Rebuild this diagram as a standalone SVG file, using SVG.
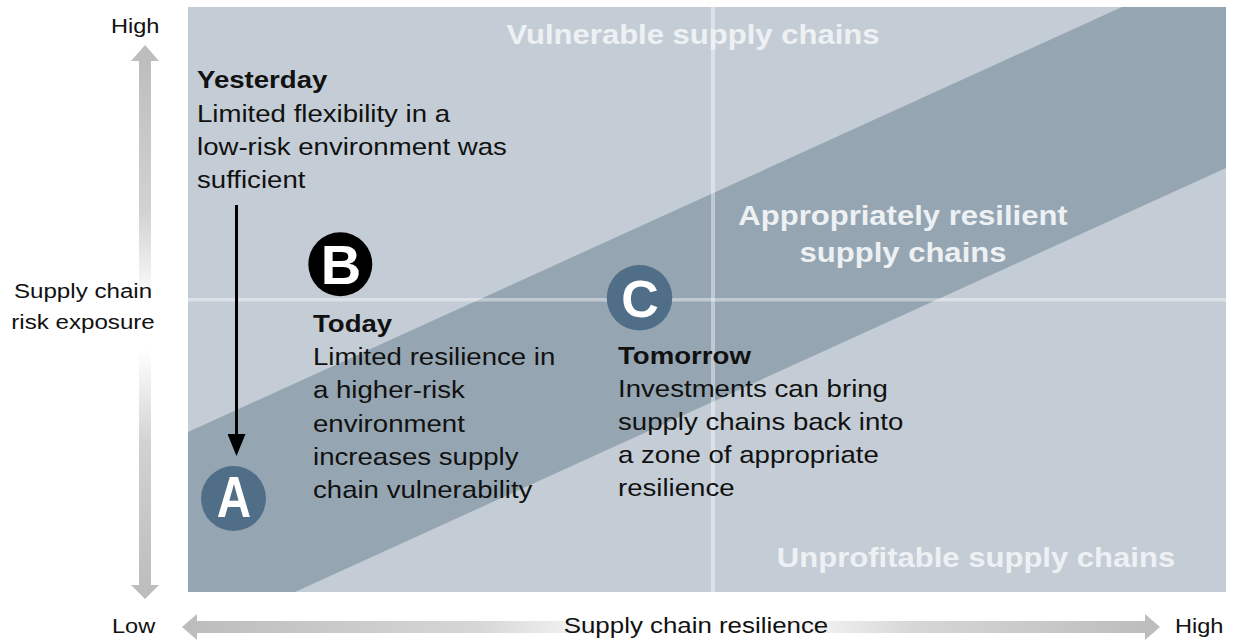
<svg xmlns="http://www.w3.org/2000/svg" width="1233" height="641" viewBox="0 0 1233 641">
<style>
.body{font-family:"Liberation Sans",Arial,sans-serif;font-size:24px;fill:#111}
.head{font-family:"Liberation Sans",Arial,sans-serif;font-size:24px;font-weight:bold;fill:#111}
.axis{font-family:"Liberation Sans",Arial,sans-serif;font-size:20.5px;fill:#111}
.zone{font-family:"Liberation Sans",Arial,sans-serif;font-size:27px;font-weight:bold;fill:#eef1f4;text-anchor:middle}
.letter{font-family:"Liberation Sans",Arial,sans-serif;font-weight:bold;fill:#fff;text-anchor:middle}
.div{fill:#fff;fill-opacity:0.4}
</style>
<defs>
<linearGradient id="gv" gradientUnits="userSpaceOnUse" x1="0" y1="45" x2="0" y2="599">
<stop offset="0" stop-color="#bcbcbc"/>
<stop offset="0.3" stop-color="#d2d2d2"/>
<stop offset="0.47" stop-color="#ffffff"/>
<stop offset="0.55" stop-color="#ffffff"/>
<stop offset="0.72" stop-color="#d2d2d2"/>
<stop offset="1" stop-color="#bcbcbc"/>
</linearGradient>
<linearGradient id="gh" gradientUnits="userSpaceOnUse" x1="182" y1="0" x2="1160" y2="0">
<stop offset="0" stop-color="#bcbcbc"/>
<stop offset="0.3" stop-color="#d6d6d6"/>
<stop offset="0.45" stop-color="#ffffff"/>
<stop offset="0.6" stop-color="#ffffff"/>
<stop offset="0.75" stop-color="#d6d6d6"/>
<stop offset="1" stop-color="#bcbcbc"/>
</linearGradient>
<marker id="ah" markerUnits="userSpaceOnUse" markerWidth="22" markerHeight="18" refX="0" refY="9" orient="auto" viewBox="0 0 22 18">
<polygon points="0,0 22,9 0,18" fill="#000"/>
</marker>
</defs>

<g id="chart">
<rect x="188" y="7" width="1038" height="585" fill="#c4cdd5"/>
<polygon points="188,432 1122,7 1226,7 1226,168 295,592 188,592" fill="#95a6b2"/>
<rect class="div" x="711" y="7" width="4" height="585"/>
<rect class="div" x="188" y="298" width="1038" height="3.5"/>
</g>

<g id="axes">
<polygon points="145,45 159,61 151,61 151,585 159,585 145,599 131,585 139,585 139,61 131,61" fill="url(#gv)"/>
<polygon points="182,627 197,614 197,621 1145,621 1145,614 1160,627 1145,640 1145,633 197,633 197,640" fill="url(#gh)"/>
<text class="axis" transform="translate(111,33) scale(1.15,1)">High</text>
<text class="axis" transform="translate(112,633) scale(1.15,1)">Low</text>
<text class="axis" transform="translate(1175,633) scale(1.15,1)">High</text>
<text class="axis" style="font-size:22.5px" text-anchor="middle" transform="translate(696,633) scale(1.15,1)">Supply chain resilience</text>
<text class="axis" style="font-size:21px" text-anchor="middle" transform="translate(83,298) scale(1.15,1)">Supply chain</text>
<text class="axis" style="font-size:21px" text-anchor="middle" transform="translate(83,329) scale(1.15,1)">risk exposure</text>
</g>

<g id="zones">
<text class="zone" transform="translate(693,44) scale(1.15,1)">Vulnerable supply chains</text>
<text class="zone" transform="translate(903,225) scale(1.15,1)">Appropriately resilient</text>
<text class="zone" transform="translate(903,262) scale(1.15,1)">supply chains</text>
<text class="zone" transform="translate(976,567) scale(1.15,1)">Unprofitable supply chains</text>
</g>

<g id="connectors">
<line x1="236.5" y1="205" x2="236.5" y2="434" stroke="#000" stroke-width="3" marker-end="url(#ah)"/>
</g>

<g id="yesterday" transform="translate(197,0) scale(1.15,1)">
<text class="head" x="0" y="88">Yesterday</text>
<text class="body" x="0" y="122">Limited flexibility in a</text>
<text class="body" x="0" y="155">low-risk environment was</text>
<text class="body" x="0" y="188">sufficient</text>
</g>

<g id="node-a">
<circle cx="233.5" cy="498.5" r="32.5" fill="#506e88"/>
<text class="letter" style="font-size:58px" transform="translate(234,517) scale(0.82,1)">A</text>
</g>

<g id="node-b">
<circle cx="340.3" cy="264.3" r="32" fill="#000"/>
<text class="letter" style="font-size:56px" x="341" y="283.5">B</text>
</g>

<g id="today" transform="translate(313,0) scale(1.15,1)">
<text class="head" x="0" y="332">Today</text>
<text class="body" x="0" y="365">Limited resilience in</text>
<text class="body" x="0" y="398.5">a higher-risk</text>
<text class="body" x="0" y="432">environment</text>
<text class="body" x="0" y="465">increases supply</text>
<text class="body" x="0" y="498">chain vulnerability</text>
</g>

<g id="node-c">
<circle cx="639.5" cy="297.8" r="32.8" fill="#506e88"/>
<text class="letter" style="font-size:52px" x="640" y="316.5">C</text>
</g>

<g id="tomorrow" transform="translate(618,0) scale(1.15,1)">
<text class="head" x="0" y="364">Tomorrow</text>
<text class="body" x="0" y="397">Investments can bring</text>
<text class="body" x="0" y="430">supply chains back into</text>
<text class="body" x="0" y="463">a zone of appropriate</text>
<text class="body" x="0" y="496">resilience</text>
</g>
</svg>
